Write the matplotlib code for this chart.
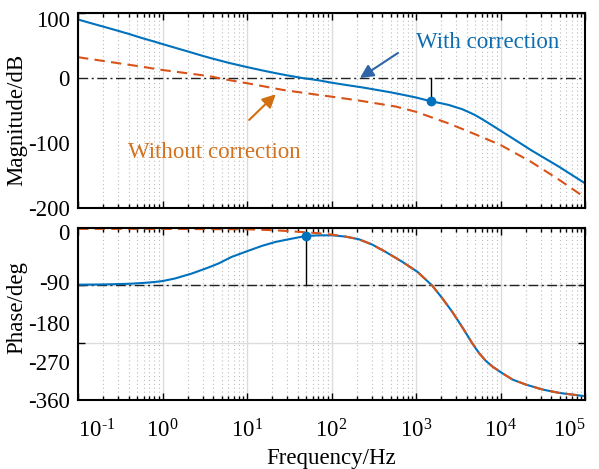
import numpy as np
import matplotlib
matplotlib.use('Agg')
import matplotlib.pyplot as plt
from matplotlib.ticker import LogLocator, NullFormatter, FixedLocator, FixedFormatter

plt.rcParams['font.family'] = ['Liberation Serif', 'DejaVu Serif']
plt.rcParams['mathtext.fontset'] = 'custom'
plt.rcParams['mathtext.rm'] = 'Liberation Serif'
plt.rcParams['mathtext.it'] = 'Liberation Serif:italic'
plt.rcParams['axes.unicode_minus'] = False

# ---------------- data ----------------
mag_freq_with = [0.1, 0.15, 0.2, 0.3, 0.4, 0.57, 0.8, 1, 1.5, 2, 3, 4, 6, 8, 10, 15,
                 20, 30, 45, 70, 100, 150, 230, 350, 500, 700, 1000, 1520, 2000,
                 2450, 3000, 3475, 4200, 5000, 6000, 7180, 10000, 15000, 23000,
                 50000, 100000]
mag_with = [90, 83.5, 79, 72.5, 67.8, 61.5, 56, 52.2, 45.5, 40.8, 34, 29.5, 23.5,
            19.7, 16.8, 11.8, 8.4, 4, 0, -3.5, -7.2, -10.8, -14.4, -18.5, -22,
            -25.8, -30, -36, -39, -41.5, -45.2, -47.7, -52.4, -57, -63, -69.2,
            -81, -95.5, -111, -137, -162]

mag_freq_without = [0.1, 0.23, 0.57, 1, 2, 3.5, 6, 10, 27, 70, 100, 220, 580, 1000,
                    2450, 5000, 10000, 23000, 50000, 100000]
mag_without = [32, 25, 17.4, 12.3, 7.2, 3, -3, -8, -18.5, -26, -28.7, -35, -44, -52,
               -70, -86.5, -103, -129, -157, -184]

ph_freq_with = [0.1, 0.2, 0.4, 0.6, 0.8, 1, 1.41, 2.23, 3.5, 4.6, 6.6, 10, 15, 21.7,
                34, 50, 71, 102, 147, 211, 303, 437, 689, 1040, 1560, 2050, 2700,
                3540, 4660, 5580, 6700, 8030, 10100, 13900, 20000, 31500, 49700,
                100000]
ph_with = [-89, -88.6, -87.6, -86.2, -84.8, -83.3, -79.2, -71.4, -62, -55.7, -45.3,
           -36.5, -28.1, -21.9, -16.7, -12.5, -11.5, -11.5, -13.5, -17.7, -26,
           -37.5, -53.1, -68.8, -90.6, -110.4, -132, -156, -181.5, -196.5,
           -208.5, -217.5, -226.5, -238, -245.8, -253.6, -258.9, -264]

ph_freq_without = [0.1, 1, 10, 21.7, 34, 50, 71, 102, 147, 211, 303, 437, 689, 1040,
                   1560, 2050, 2700, 3540, 4660, 5580, 6700, 8030, 10100, 13900,
                   20000, 31500, 49700, 100000]
ph_without = [-1.3, -1.4, -2, -3.6, -5.2, -6.8, -8.3, -10.4, -13.5, -17.7, -26,
              -37.5, -53.1, -68.8, -90.6, -110.4, -132, -156, -181.5, -196.5,
              -208.5, -217.5, -226.5, -238, -245.8, -253.6, -258.9, -264]

mag_marker = (1520, -36)
ph_marker = (50, -12.5)

freq_ticks = [0.1, 1, 10, 100, 1000, 10000, 100000]
freq_labels = [r'$10^{\text{-}1}$', '$10^{0}$', '$10^{1}$', '$10^{2}$', '$10^{3}$',
               '$10^{4}$', '$10^{5}$']
mag_tick_marks = [-200, -100, 0, 100]
mag_label_pos = [-200, -100, 0, 91]
mag_labels = ['-200', '-100', '0', '100']
ph_tick_marks = [-270, -180, -90, 0]
ph_label_pos = [-6, -85, -149, -210, -270]
ph_labels = ['0', '-90', '-180', '-270', '-360']

blue = '#0072BD'
orange = '#D95319'
text_blue = '#0E6DB0'
text_orange = '#D2711E'
arrow_blue = '#2F64A6'
arrow_orange = '#D2700F'

FS = 16.5

fig = plt.figure(figsize=(5.99, 4.69), dpi=100)
ax1 = fig.add_axes([78/599, 1-208/469, 507/599, 195/469])
ax2 = fig.add_axes([78/599, 1-400/469, 507/599, 172/469])

for ax in (ax1, ax2):
    ax.set_xscale('log')
    ax.set_xlim(0.1, 1e5)
    ax.xaxis.set_major_locator(FixedLocator(freq_ticks))
    ax.xaxis.set_major_formatter(FixedFormatter(freq_labels))
    ax.xaxis.set_minor_locator(LogLocator(base=10, subs=np.arange(2, 10), numticks=20))
    ax.xaxis.set_minor_formatter(NullFormatter())
    ax.tick_params(which='both', direction='in', top=True, right=True, width=1,
                   labelsize=FS)
    ax.tick_params(which='major', length=5)
    ax.tick_params(which='minor', length=3)
    ax.tick_params(axis='y', which='major', length=0, pad=6)
    ax.tick_params(axis='y', which='minor', length=5)
    ax.xaxis.grid(True, which='major', color='#dcdcdc', lw=1, ls='-')
    ax.xaxis.grid(True, which='minor', color='#bcbcbc', lw=0.8, ls=(0, (1, 2.5)))
    ax.yaxis.grid(False, which='major')
    ax.yaxis.grid(True, which='minor', color='#dcdcdc', lw=1)
    ax.set_axisbelow(True)
    for s in ax.spines.values():
        s.set_linewidth(1.5)

# ---------------- magnitude ----------------
ax1.set_ylim(-200, 100)
ax1.yaxis.set_major_locator(FixedLocator(mag_label_pos))
ax1.yaxis.set_major_formatter(FixedFormatter(mag_labels))
ax1.yaxis.set_minor_locator(FixedLocator(mag_tick_marks))
ax1.tick_params(axis='x', labelbottom=False)
ax1.axhline(0, color='#222222', lw=1, ls=(0, (7, 2.5, 1.5, 2.5)))
ax1.plot(mag_freq_without, mag_without, color=orange, lw=1.5, ls=(0, (5, 3)))
ax1.plot(mag_freq_with, mag_with, color=blue, lw=1.5)
ax1.plot([mag_marker[0], mag_marker[0]], [mag_marker[1], 0], color='black', lw=1)
ax1.plot(*mag_marker, 'o', color=blue, ms=6)
ax1.set_ylabel('Magnitude/dB', fontsize=FS)
ax1.yaxis.set_label_coords(-0.1, 0.45)

ax1.annotate('', xy=(217, 0), xytext=(612, 38.5),
             arrowprops=dict(arrowstyle='-|>', color=arrow_blue, lw=1.5,
                             mutation_scale=20, shrinkA=0, shrinkB=0))
ax1.annotate('', xy=(21.9, -25), xytext=(10.6, -64.5),
             arrowprops=dict(arrowstyle='-|>', color=arrow_orange, lw=1.5,
                             mutation_scale=20, shrinkA=0, shrinkB=0))
ax1.text(7100, 54, 'With correction', color=text_blue, fontsize=FS,
         ha='center', va='center')
ax1.text(4.06, -115, 'Without correction', color=text_orange, fontsize=FS,
         ha='center', va='center')

# ---------------- phase ----------------
ax2.set_ylim(-270, 0)
ax2.yaxis.set_major_locator(FixedLocator(ph_label_pos))
ax2.yaxis.set_major_formatter(FixedFormatter(ph_labels))
ax2.yaxis.set_minor_locator(FixedLocator(ph_tick_marks))
ax2.axhline(-90, color='#222222', lw=1, ls=(0, (7, 2.5, 1.5, 2.5)))
ax2.plot(ph_freq_with, ph_with, color=blue, lw=1.5)
ax2.plot(ph_freq_without, ph_without, color=orange, lw=1.5, ls=(0, (5, 3)))
ax2.plot([ph_marker[0], ph_marker[0]], [ph_marker[1], -90], color='black', lw=1)
ax2.plot(*ph_marker, 'o', color=blue, ms=6)
ax2.tick_params(axis='x', which='major', pad=14)
ax2.set_ylabel('Phase/deg', fontsize=FS)
ax2.yaxis.set_label_coords(-0.1, 0.535)
ax2.set_xlabel('Frequency/Hz', fontsize=FS, labelpad=4)

xl = ax2.get_xticklabels()
xl[0].set_horizontalalignment('left')
xl[-1].set_horizontalalignment('right')

fig.savefig('out.png', dpi=100)
